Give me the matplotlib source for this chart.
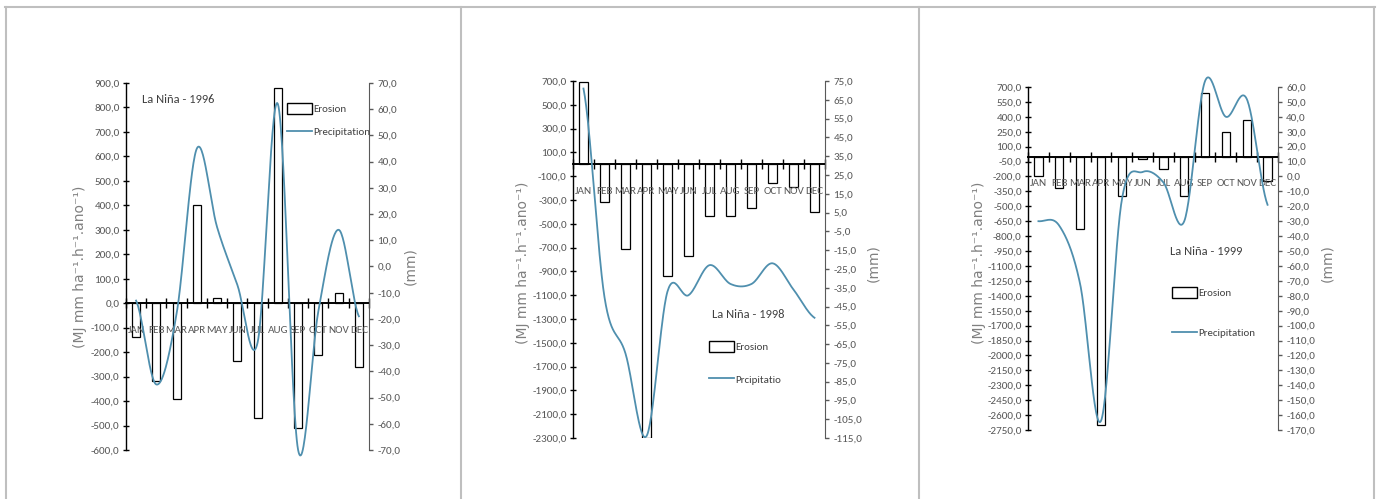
import matplotlib
matplotlib.use("Agg")
import matplotlib.pyplot as plt
import numpy as np
from matplotlib.patches import Patch
from matplotlib.lines import Line2D

# Calibri-like narrow text as in the original
plt.rcParams['font.family'] = ['Carlito', 'Archivo Narrow', 'Liberation Sans', 'DejaVu Sans']

months = ['JAN', 'FEB', 'MAR', 'APR', 'MAY', 'JUN', 'JUL', 'AUG', 'SEP', 'OCT', 'NOV', 'DEC']

# erosion (left axis) and precipitation (right axis) per year
erosion_1996 = [-140, -320, -390, 400, 20, -235, -470, 880, -510, -210, 40, -260]
precip_1996 = [-13, -45, -18, 45, 15, -7, -29, 62, -70, -17, 14, -19]

erosion_1998 = [690, -320, -710, -2300, -940, -770, -430, -430, -365, -160, -190, -400]
precip_1998 = [71, -40, -70, -114, -37, -39, -23, -33, -33, -22, -36, -51]

erosion_1999 = [-200, -320, -725, -2700, -400, -25, -120, -400, 640, 250, 370, -250]
precip_1999 = [-30, -33, -72, -164, -16, 3, -4, -30, 64, 40, 52, -19]

left_ticks_1996 = list(range(-600, 901, 100))
right_ticks_1996 = list(range(-70, 71, 10))
left_ticks_1998 = list(range(-2300, 701, 200))
right_ticks_1998 = list(range(-115, 76, 10))
left_ticks_1999 = list(range(-2750, 701, 150))
right_ticks_1999 = list(range(-170, 61, 10))

BLUE = '#4f8fae'
GREY = '#595959'


def fmt(v):
    return f"{v:.1f}".replace('.', ',')


def smooth(y, n=30):
    # catmull-rom through the monthly points (like Excel's smoothed line)
    y = np.asarray(y, dtype=float)
    p = np.concatenate([[y[0]], y, [y[-1]]])
    xs, ys = [], []
    t = np.linspace(0, 1, n, endpoint=False)
    for i in range(len(y) - 1):
        p0, p1, p2, p3 = p[i], p[i + 1], p[i + 2], p[i + 3]
        v = 0.5 * ((2 * p1) + (-p0 + p2) * t + (2 * p0 - 5 * p1 + 4 * p2 - p3) * t ** 2
                   + (-p0 + 3 * p1 - 3 * p2 + p3) * t ** 3)
        xs.extend(i + t)
        ys.extend(v)
    xs.append(len(y) - 1)
    ys.append(y[-1])
    return np.array(xs), np.array(ys)


def panel(rect, erosion, precip, lticks, rticks, title, title_xy,
          prec_label, leg_xy, leg_space, ylab_x, rlab_x, lab_y):
    ax = fig.add_axes(rect)
    ax.set_axisbelow(False)
    x = np.arange(12)
    ax.bar(x, erosion, width=0.4, color='white', edgecolor='black', linewidth=0.9, zorder=1)
    ax.set_xlim(-0.5, 11.5)
    ax.set_ylim(lticks[0], lticks[-1])
    ax.set_yticks(lticks)
    ax.set_yticklabels([fmt(v) for v in lticks])
    ax.tick_params(axis='y', direction='inout', length=5, width=1, colors='black',
                   labelcolor=GREY, labelsize=8, pad=2)
    ax.spines['top'].set_visible(False)
    ax.spines['right'].set_visible(False)
    ax.spines['bottom'].set_position(('data', 0))
    ax.spines['bottom'].set_linewidth(1.4)
    ax.spines['left'].set_linewidth(1.0)
    ax.set_xticks(np.arange(-0.5, 12, 1))
    ax.set_xticklabels([])
    ax.tick_params(axis='x', which='major', direction='inout', length=7, width=1)
    ax.set_xticks(x, minor=True)
    ax.set_xticklabels(months, minor=True)
    ax.tick_params(axis='x', which='minor', length=0, pad=16.5, labelsize=8, labelcolor=GREY)
    ax.set_facecolor('none')
    ax.set_ylabel('(MJ mm ha⁻¹.h⁻¹.ano⁻¹)', family='DejaVu Sans', fontsize=10, color='#808080')
    ax.yaxis.set_label_coords(ylab_x, lab_y)

    ax2 = ax.twinx()
    sx, sy = smooth(precip)
    ax2.plot(sx, sy, color=BLUE, lw=1.3, clip_on=False)
    ax2.set_ylim(rticks[0], rticks[-1])
    ax2.set_yticks(rticks)
    ax2.set_yticklabels([fmt(v) for v in rticks])
    ax2.tick_params(axis='y', direction='out', length=3, width=1, colors=GREY,
                    labelcolor=GREY, labelsize=8, pad=3)
    for s in ['top', 'bottom', 'left']:
        ax2.spines[s].set_visible(False)
    ax2.spines['right'].set_color(GREY)
    ax2.set_ylabel('(mm)', family='DejaVu Sans', fontsize=10, color='#808080', rotation=90)
    ax2.yaxis.set_label_coords(rlab_x, lab_y)

    ax2.text(title_xy[0], title_xy[1], title, transform=ax2.transAxes,
             fontsize=9, color='#404040', va='center', ha='left')
    handles = [Patch(facecolor='white', edgecolor='black', linewidth=1.0),
               Line2D([], [], color=BLUE, lw=1.3)]
    ax2.legend(handles, ['Erosion', prec_label], loc='upper left', bbox_to_anchor=leg_xy,
               frameon=False, borderpad=0, borderaxespad=0, handlelength=2.3,
               handleheight=1.15, handletextpad=0.1, labelspacing=leg_space,
               fontsize=7.8, labelcolor='#404040')
    return ax, ax2


fig = plt.figure(figsize=(13.81, 4.99), dpi=100)

panel([0.0912, 0.0982, 0.176, 0.7355], erosion_1996, precip_1996,
      left_ticks_1996, right_ticks_1996, 'La Niña - 1996', (0.066, 0.954),
      'Precipitation', (0.663, 0.945), 1.1, -0.161, 1.14, 0.5)
panel([0.4149, 0.1222, 0.1825, 0.7154], erosion_1998, precip_1998,
      left_ticks_1998, right_ticks_1998, 'La Niña - 1998', (0.552, 0.345),
      'Prcipitatio', (0.54, 0.271), 1.98, -0.170, 1.162, 0.49)
panel([0.7444, 0.1383, 0.181, 0.6874], erosion_1999, precip_1999,
      left_ticks_1999, right_ticks_1999, 'La Niña - 1999', (0.568, 0.519),
      'Precipitation', (0.576, 0.416), 2.68, -0.168, 1.168, 0.487)

# table-like frame around the three charts
W, H = 1381, 499
frame_kw = dict(color='#bfbfbf', lw=1.5, transform=fig.transFigure)
fig.add_artist(Line2D([5 / W, 1375 / W], [1 - 6.5 / H, 1 - 6.5 / H], **frame_kw))
for px in [6, 461, 919, 1374]:
    fig.add_artist(Line2D([px / W, px / W], [0, 1 - 6.5 / H], **frame_kw))

fig.savefig('out.png', dpi=100)
